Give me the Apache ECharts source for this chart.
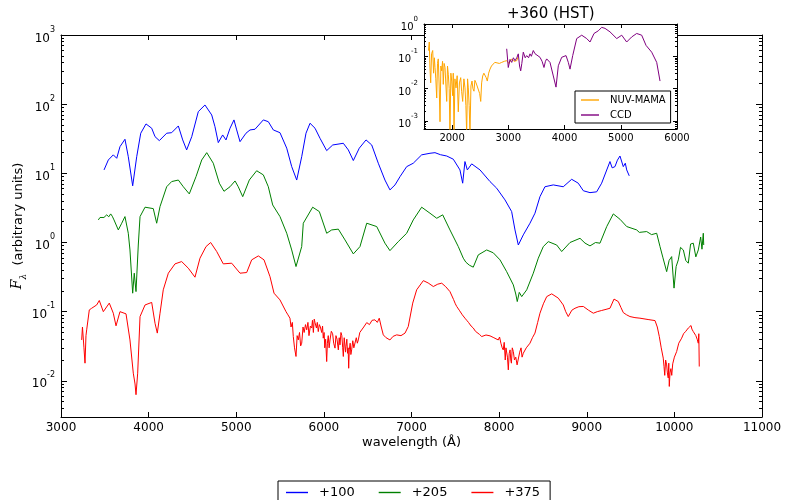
<!DOCTYPE html>
<html>
<head>
<meta charset="utf-8">
<script src="https://cdn.jsdelivr.net/npm/echarts@6/dist/echarts.min.js"></script>
<style>html,body{margin:0;padding:0;background:#fff}#main{width:786px;height:500px}</style>
</head>
<body>
<div id="main"></div>
<script>
// spectra, [wavelength (A), flux]
var spec100 = [[3491,11.2],[3540,15.6],[3597,18.5],[3636,16.5],[3673,24.3],[3730,31.1],[3768,17.4],[3818,6.6],[3864,17.4],[3910,38],[3970,51.8],[4035,44.9],[4073,33.9],[4122,29.7],[4206,38],[4263,38.7],[4339,48.4],[4389,30.4],[4434,21.8],[4492,33.9],[4567,78],[4643,97.3],[4720,69.8],[4757,47.3],[4795,27.8],[4845,35.9],[4883,30.4],[4929,44.9],[4974,59.2],[5005,42.4],[5043,28.7],[5111,38],[5157,42.4],[5214,43.4],[5309,59.2],[5366,55.8],[5423,42.4],[5499,38.7],[5576,23.1],[5633,12.5],[5690,8.0],[5747,17.4],[5796,38],[5842,53],[5899,44.9],[5956,32.1],[6032,21.3],[6101,25.7],[6222,27.2],[6279,21.8],[6336,15.3],[6404,23.1],[6481,30.4],[6546,25.7],[6621,14],[6697,8.0],[6754,5.76],[6812,6.8],[6869,8.96],[6945,12.5],[7020,14],[7116,18.5],[7211,19.5],[7268,19.9],[7330,18.6],[7402,17.8],[7477,16],[7553,11.2],[7584,7.2],[7610,14.8],[7637,11.2],[7687,13.7],[7782,11.2],[7896,7.6],[7972,6.1],[8067,4.13],[8143,2.8],[8181,1.52],[8219,0.92],[8276,1.29],[8352,1.9],[8409,2.65],[8466,4.6],[8523,6.4],[8618,6.8],[8732,6.4],[8828,8.2],[8903,7.2],[8961,5.6],[9037,5.26],[9113,5.4],[9170,7.2],[9265,14.8],[9290,12.0],[9322,12.5],[9350,15.5],[9379,17.8],[9417,12.5],[9440,14.0],[9456,11.2],[9485,9.2]];

var spec205 = [[3426,2.12],[3445,2.3],[3464,2.42],[3490,2.3],[3522,2.51],[3545,2.35],[3567,2.59],[3585,2.4],[3605,2.12],[3654,1.52],[3693,1.9],[3730,2.37],[3768,1.36],[3787,0.78],[3818,0.185],[3836,0.36],[3856,0.195],[3882,0.92],[3902,2.37],[3959,3.24],[4053,3.09],[4092,1.9],[4130,3.31],[4206,6.4],[4263,7.6],[4339,8.0],[4396,6.4],[4464,5.04],[4541,8.96],[4606,15.6],[4663,19.9],[4738,14],[4807,7.2],[4860,5.5],[4929,6.4],[4986,7.76],[5023,6.4],[5074,4.6],[5149,8.0],[5233,10.9],[5309,9.5],[5366,6.4],[5416,3.49],[5499,2.37],[5576,1.36],[5633,0.78],[5682,0.449],[5747,0.873],[5765,1.9],[5872,3.24],[5948,2.8],[6032,1.36],[6089,1.52],[6165,1.56],[6241,1.09],[6336,0.684],[6412,0.873],[6489,1.9],[6603,1.7],[6697,0.977],[6754,0.763],[6849,1.03],[6945,1.36],[7020,2.12],[7116,3.24],[7211,2.65],[7288,2.24],[7356,2.51],[7439,1.52],[7534,0.873],[7591,0.593],[7620,0.52],[7660,0.47],[7705,0.44],[7762,0.662],[7858,0.78],[7933,0.71],[8010,0.561],[8086,0.379],[8162,0.244],[8190,0.18],[8207,0.14],[8230,0.19],[8258,0.165],[8315,0.207],[8390,0.36],[8447,0.593],[8504,0.873],[8561,1.03],[8657,0.92],[8714,0.74],[8809,1.0],[8923,1.15],[8980,0.98],[9037,0.893],[9100,1.0],[9151,0.977],[9228,1.7],[9303,2.59],[9379,2.17],[9456,1.7],[9570,1.52],[9600,1.4],[9684,1.44],[9740,1.3],[9798,1.36],[9836,0.873],[9870,0.6],[9912,0.379],[9940,0.55],[9969,0.625],[9996,0.219],[10020,0.45],[10045,0.561],[10070,0.85],[10102,0.78],[10130,0.55],[10159,0.502],[10185,0.95],[10216,0.977],[10245,0.62],[10273,0.78],[10300,1.2],[10315,0.8],[10330,1.36],[10335,0.92]];

var spec375 = [[3236,0.039],[3245,0.06],[3254,0.061],[3262,0.03],[3274,0.018],[3285,0.045],[3293,0.0546],[3323,0.106],[3350,0.112],[3369,0.106],[3407,0.125],[3437,0.145],[3483,0.1],[3551,0.133],[3597,0.095],[3628,0.0624],[3673,0.1],[3742,0.093],[3787,0.039],[3825,0.0129],[3845,0.009],[3856,0.0063],[3875,0.0129],[3902,0.085],[3959,0.125],[4035,0.136],[4073,0.068],[4099,0.049],[4130,0.095],[4167,0.207],[4225,0.36],[4301,0.491],[4377,0.53],[4453,0.425],[4529,0.315],[4586,0.593],[4655,0.873],[4708,1.0],[4777,0.74],[4852,0.491],[4948,0.502],[5043,0.36],[5119,0.368],[5176,0.561],[5252,0.64],[5317,0.561],[5385,0.321],[5431,0.185],[5499,0.148],[5568,0.1],[5590,0.09],[5613,0.0805],[5625,0.06],[5640,0.07],[5651,0.0437],[5665,0.03],[5682,0.0225],[5695,0.045],[5708,0.039],[5722,0.05],[5735,0.032],[5747,0.035],[5762,0.06],[5775,0.05],[5790,0.065],[5804,0.0546],[5818,0.07],[5830,0.045],[5846,0.062],[5861,0.058],[5870,0.075],[5880,0.05],[5890,0.078],[5899,0.0695],[5915,0.058],[5925,0.07],[5936,0.0515],[5948,0.065],[5960,0.06],[5975,0.05],[5985,0.062],[5993,0.0414],[6003,0.05],[6010,0.03],[6020,0.04],[6032,0.019],[6040,0.035],[6050,0.045],[6060,0.03],[6070,0.039],[6085,0.052],[6100,0.048],[6112,0.035],[6127,0.0297],[6138,0.045],[6150,0.04],[6165,0.028],[6175,0.042],[6184,0.0331],[6195,0.05],[6205,0.045],[6215,0.03],[6222,0.0225],[6232,0.042],[6240,0.04],[6247,0.026],[6252,0.0313],[6262,0.04],[6270,0.025],[6277,0.03],[6283,0.0152],[6290,0.028],[6300,0.035],[6308,0.024],[6317,0.028],[6330,0.038],[6342,0.03],[6355,0.0313],[6370,0.042],[6382,0.035],[6393,0.039],[6410,0.05],[6431,0.0515],[6455,0.06],[6489,0.0695],[6520,0.065],[6550,0.075],[6583,0.0762],[6610,0.07],[6632,0.0805],[6655,0.06],[6678,0.0462],[6710,0.042],[6754,0.039],[6790,0.044],[6831,0.0462],[6880,0.045],[6926,0.049],[6963,0.061],[7014,0.133],[7059,0.207],[7135,0.281],[7190,0.26],[7249,0.231],[7300,0.25],[7345,0.258],[7390,0.23],[7439,0.195],[7480,0.15],[7500,0.13],[7516,0.119],[7530,0.125],[7545,0.105],[7560,0.1],[7580,0.09],[7610,0.0805],[7630,0.075],[7650,0.07],[7680,0.062],[7705,0.058],[7730,0.052],[7750,0.05],[7775,0.047],[7801,0.0437],[7850,0.046],[7896,0.0447],[7940,0.042],[7990,0.039],[8005,0.043],[8020,0.035],[8035,0.03],[8047,0.028],[8058,0.036],[8070,0.02],[8078,0.03],[8085,0.032],[8095,0.022],[8105,0.0144],[8115,0.025],[8125,0.028],[8133,0.02],[8140,0.018],[8150,0.03],[8162,0.0265],[8175,0.02],[8190,0.022],[8205,0.017],[8219,0.018],[8235,0.026],[8250,0.03],[8262,0.022],[8276,0.0251],[8310,0.03],[8352,0.035],[8380,0.042],[8409,0.049],[8440,0.07],[8466,0.095],[8505,0.13],[8543,0.165],[8600,0.181],[8675,0.157],[8732,0.125],[8760,0.1],[8789,0.085],[8830,0.105],[8866,0.112],[8910,0.118],[8961,0.119],[9020,0.105],[9075,0.095],[9120,0.1],[9170,0.104],[9220,0.108],[9265,0.112],[9311,0.152],[9360,0.14],[9390,0.115],[9417,0.097],[9455,0.09],[9493,0.085],[9550,0.082],[9607,0.0805],[9700,0.077],[9779,0.0743],[9805,0.06],[9828,0.0437],[9850,0.03],[9873,0.0213],[9882,0.016],[9890,0.012],[9900,0.02],[9912,0.017],[9920,0.013],[9930,0.011],[9936,0.018],[9942,0.0083],[9950,0.013],[9960,0.015],[9970,0.012],[9981,0.0176],[10000,0.022],[10026,0.0265],[10050,0.035],[10083,0.0414],[10105,0.048],[10130,0.052],[10159,0.058],[10175,0.055],[10190,0.063],[10200,0.056],[10216,0.0515],[10230,0.055],[10245,0.045],[10260,0.04],[10273,0.035],[10279,0.048],[10284,0.0161]];

// inset: +360 (HST)
var nuvMama = [[1580,0.15],[1594,0.277],[1605,0.05],[1619,0.0151],[1635,0.12],[1655,0.151],[1670,0.03],[1684,0.09],[1696,0.045],[1710,0.02],[1726,0.0051],[1740,0.06],[1754,0.083],[1770,0.012],[1785,0.00094],[1800,0.05],[1815,0.0354],[1830,0.07],[1843,0.0135],[1858,0.06],[1874,0.045],[1890,0.012],[1904,0.004],[1918,0.05],[1932,0.0279],[1948,0.01],[1962,0.0004],[1978,0.03],[1993,0.0171],[2010,0.006],[2020,0.03],[2034,0.0004],[2050,0.02],[2069,0.0105],[2090,0.025],[2110,0.0019],[2130,0.015],[2153,0.0218],[2170,0.008],[2188,0.004],[2210,0.02],[2229,0.0105],[2245,0.003],[2259,0.0004],[2275,0.02],[2288,0.0105],[2303,0.003],[2318,0.0004],[2335,0.012],[2354,0.0171],[2370,0.01],[2389,0.0083],[2405,0.018],[2425,0.0151],[2445,0.012],[2466,0.0105],[2490,0.007],[2509,0.004],[2525,0.015],[2544,0.0246],[2565,0.03],[2585,0.0279],[2605,0.022],[2626,0.0171],[2650,0.03],[2674,0.04],[2700,0.05],[2733,0.0575],[2760,0.065],[2793,0.073],[2840,0.06],[2882,0.0647],[2930,0.07],[2971,0.073],[3010,0.06],[3060,0.083],[3100,0.07],[3149,0.073],[3177,0.098]];

var ccd = [[2971,0.171],[2999,0.045],[3030,0.08],[3060,0.0647],[3090,0.09],[3119,0.073],[3150,0.09],[3177,0.119],[3200,0.05],[3220,0.0354],[3240,0.06],[3266,0.134],[3300,0.09],[3327,0.105],[3360,0.09],[3385,0.119],[3410,0.1],[3444,0.151],[3475,0.12],[3505,0.105],[3563,0.093],[3600,0.07],[3634,0.045],[3660,0.07],[3682,0.083],[3741,0.0647],[3800,0.0246],[3848,0.0111],[3889,0.0509],[3949,0.093],[4026,0.105],[4067,0.0647],[4097,0.04],[4145,0.105],[4216,0.354],[4305,0.45],[4394,0.354],[4453,0.277],[4524,0.509],[4600,0.615],[4661,0.787],[4720,0.732],[4808,0.572],[4928,0.354],[5017,0.45],[5105,0.277],[5194,0.397],[5283,0.509],[5372,0.45],[5449,0.218],[5550,0.134],[5639,0.0647],[5698,0.0171]];

var mainDecades = [0.01, 0.1, 1, 10, 100, 1000];
var insetDecades = [0.001, 0.01, 0.1, 1];
var insetXTicks = [2000, 3000, 4000, 5000, 6000];

var FONT = 'DejaVu Sans';

function minorTicks(lo, hi) {
    var out = [];
    for (var e = -4; e <= 3; e++) {
        for (var m = 2; m <= 9; m++) {
            var v = m * Math.pow(10, e);
            if (v > lo && v < hi) out.push(v);
        }
    }
    return out;
}

function sup(v) {
    var e = Math.round(Math.log10(v));
    return '{b|10}{s|' + e + '}';
}

function plain(v) {
    return String(v);
}

function supRich(size) {
    return {
        b: { fontSize: size, fontFamily: FONT, color: '#000', verticalAlign: 'bottom', lineHeight: size + 7 },
        s: { fontSize: Math.round(size * 0.7), fontFamily: FONT, color: '#000', verticalAlign: 'top', lineHeight: size + 7 }
    };
}

// a log y axis drawing only ticks (and optionally labels)
function logY(grid, pos, min, max, ticks, len, opts) {
    opts = opts || {};
    return Object.assign({
        type: 'log', logBase: 10, gridIndex: grid, position: pos, min: min, max: max,
        z: grid ? 11 : 0,
        axisLine: { show: !!opts.line, lineStyle: { color: '#000', width: 1 } },
        axisTick: { show: true, inside: true, length: len, customValues: ticks, lineStyle: { color: '#000' } },
        axisLabel: opts.labels ? {
            show: true, customValues: ticks, margin: 6, formatter: sup, rich: supRich(opts.labels)
        } : { show: false },
        splitLine: { show: false }
    }, opts.extra || {});
}

var myChart = echarts.init(document.getElementById('main'));

var option = {
    animation: false,
    backgroundColor: '#fff',
    grid: [
        { left: 61, right: 24, top: 35, bottom: 83, outerBoundsMode: 'none', containLabel: false },
        { left: 424, top: 24, width: 253, height: 105, outerBoundsMode: 'none', containLabel: false,
          show: true, backgroundColor: '#fff', borderWidth: 0, z: 10 }
    ],
    title: {
        text: '+360 (HST)', left: 507, top: 7, padding: 0,
        textStyle: { fontSize: 15, fontWeight: 'normal', fontFamily: FONT, color: '#000' }
    },
    xAxis: [
        {
            type: 'value', gridIndex: 0, min: 3000, max: 11000, interval: 1000,
            name: 'wavelength (Å)', nameLocation: 'middle', nameGap: 19, nameMoveOverlap: false,
            nameTextStyle: { fontSize: 13, fontFamily: FONT, color: '#000' },
            axisLine: { lineStyle: { color: '#000', width: 1 } },
            axisTick: { inside: true, length: 5, lineStyle: { color: '#000' } },
            axisLabel: { fontSize: 12, fontFamily: FONT, color: '#000', margin: 5, formatter: plain },
            splitLine: { show: false }
        },
        {
            type: 'value', gridIndex: 0, position: 'top', min: 3000, max: 11000, interval: 1000,
            axisLine: { lineStyle: { color: '#000', width: 1 } },
            axisTick: { inside: true, length: 5, lineStyle: { color: '#000' } },
            axisLabel: { show: false },
            splitLine: { show: false }
        },
        {
            type: 'value', gridIndex: 1, min: 1500, max: 6000, z: 11,
            axisLine: { lineStyle: { color: '#000', width: 1 } },
            axisTick: { inside: true, length: 4, customValues: insetXTicks, lineStyle: { color: '#000' } },
            axisLabel: { customValues: insetXTicks, fontSize: 10, fontFamily: FONT, color: '#000', margin: 4, formatter: plain },
            splitLine: { show: false }
        },
        {
            type: 'value', gridIndex: 1, position: 'top', min: 1500, max: 6000, z: 11,
            axisLine: { lineStyle: { color: '#000', width: 1 } },
            axisTick: { inside: true, length: 4, customValues: insetXTicks, lineStyle: { color: '#000' } },
            axisLabel: { show: false },
            splitLine: { show: false }
        }
    ],
    yAxis: [
        logY(0, 'left', 0.003, 1000, mainDecades, 6, {
            line: true, labels: 12,
            extra: {
                name: '{f|F}{l|λ}  (arbitrary units)', nameLocation: 'middle', nameGap: 33, nameRotate: 90,
                nameMoveOverlap: false,
                nameTextStyle: {
                    fontSize: 13, fontFamily: FONT, color: '#000',
                    rich: {
                        f: { fontSize: 14, fontFamily: 'DejaVu Serif', fontStyle: 'italic', color: '#000', verticalAlign: 'top', lineHeight: 18 },
                        l: { fontSize: 9, fontFamily: 'DejaVu Serif', fontStyle: 'italic', color: '#000', verticalAlign: 'bottom', lineHeight: 18 }
                    }
                }
            }
        }),
        logY(0, 'left', 0.003, 1000, minorTicks(0.003, 1000), 3),
        logY(0, 'right', 0.003, 1000, mainDecades, 6, { line: true }),
        logY(0, 'right', 0.003, 1000, minorTicks(0.003, 1000), 3),
        logY(1, 'left', 0.00056, 1, insetDecades, 4, { line: true, labels: 10 }),
        logY(1, 'left', 0.00056, 1, minorTicks(0.00056, 1), 2),
        logY(1, 'right', 0.00056, 1, insetDecades, 4, { line: true }),
        logY(1, 'right', 0.00056, 1, minorTicks(0.00056, 1), 2)
    ],
    legend: [
        {
            data: ['+100', '+205', '+375'], orient: 'horizontal', left: 278, top: 481,
            icon: 'rect', itemWidth: 22, itemHeight: 1.4, itemGap: 24,
            padding: [5, 10, 6, 8], borderColor: '#000', borderWidth: 1, borderRadius: 0,
            textStyle: { fontSize: 13, fontFamily: FONT, color: '#000', padding: [0, 0, 0, 6] }
        },
        {
            data: ['NUV-MAMA', 'CCD'], orient: 'vertical', left: 575, top: 91, z: 20,
            icon: 'rect', itemWidth: 18, itemHeight: 1.4, itemGap: 5,
            padding: [4, 5, 3, 6], borderColor: '#000', borderWidth: 1, borderRadius: 0,
            backgroundColor: '#fff',
            textStyle: { fontSize: 10, fontFamily: FONT, color: '#000', padding: [0, 0, 0, 6] }
        }
    ],
    series: [
        { name: '+100', type: 'line', data: spec100, xAxisIndex: 0, yAxisIndex: 0, symbol: 'none', color: '#0000ff', lineStyle: { width: 1 } },
        { name: '+205', type: 'line', data: spec205, xAxisIndex: 0, yAxisIndex: 0, symbol: 'none', color: '#008000', lineStyle: { width: 1 } },
        { name: '+375', type: 'line', data: spec375, xAxisIndex: 0, yAxisIndex: 0, symbol: 'none', color: '#ff0000', lineStyle: { width: 1 } },
        { name: 'NUV-MAMA', type: 'line', data: nuvMama, xAxisIndex: 2, yAxisIndex: 4, symbol: 'none', color: '#ffa500', lineStyle: { width: 1 }, z: 12 },
        { name: 'CCD', type: 'line', data: ccd, xAxisIndex: 2, yAxisIndex: 4, symbol: 'none', color: '#800080', lineStyle: { width: 1 }, z: 13 }
    ]
};

myChart.setOption(option);
</script>
</body>
</html>
